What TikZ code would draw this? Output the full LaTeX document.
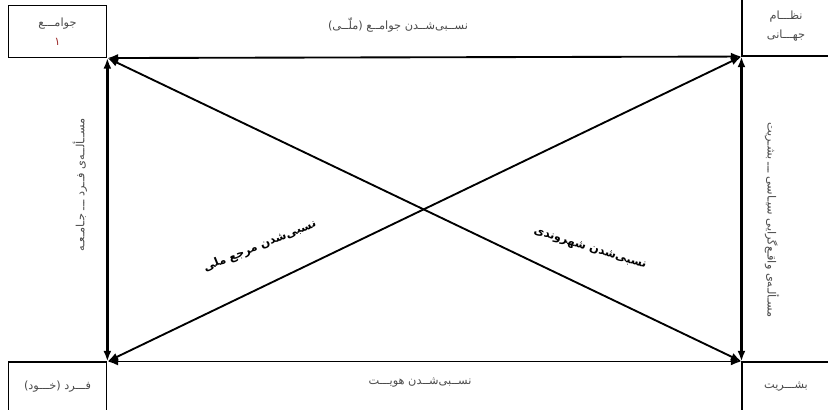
\documentclass[tikz,border=0pt]{standalone}
\usepackage{fontspec}
\usetikzlibrary{arrows.meta}
\usepackage{xcolor}
\TeXXeTstate=1
\newfontfamily\fa[Script=Arabic]{DejaVu Sans}
\definecolor{labelGray}{HTML}{4B4B4B}
\definecolor{numRed}{HTML}{A03030}
\tikzset{
cornerbox/.style={draw=black, line width=0.8pt, fill=white, minimum width=74pt, minimum height=39pt, align=center, font=\fa\fontsize{8.5}{14}\selectfont, text=labelGray, inner sep=2pt},
sidelabel/.style={font=\fa\fontsize{8.5}{10}\selectfont, text=labelGray, inner sep=1pt},
diaglabel/.style={font=\fa\bfseries\fontsize{8.5}{10}\selectfont, text=black, inner sep=1pt},
arrow/.style={{Latex[length=8pt,width=6pt]}-{Latex[length=8pt,width=6pt]}, line width=1.4pt},
thickarrow/.style={arrow, line width=2.8pt}
}

\begin{document}
\begin{tikzpicture}[x=0.75pt, y=-0.75pt]
\useasboundingbox (0,0) rectangle (828,410);
% the four corners of the field
\node[cornerbox] (soc) at (57.5,31.5) {\beginR جوامـــع\endR\\\textcolor{numRed}{۱}};
\node[cornerbox, minimum width=66pt, minimum height=45pt] (wsys) at (786,26) {\beginR نظـــام\endR\\\beginR جهـــانی\endR};
\node[cornerbox, minimum height=37.5pt] (self) at (57.5,387) {\beginR فـــرد (خـــود)\endR};
\node[cornerbox, minimum width=66pt, minimum height=37.5pt] (hum) at (786,387) {\beginR بشـــریت\endR};

\draw[arrow] (soc.south east) -- (wsys.south west);
\draw[arrow] (self.north east) -- (hum.north west);
\draw[thickarrow] (soc.south east) -- (self.north east);
\draw[thickarrow] (wsys.south west) -- (hum.north west);
\draw[arrow] (self.north east) -- (wsys.south west);
\draw[arrow] (hum.north west) -- (soc.south east);

\node[sidelabel] (toplab) at (398,25) {\beginR نســبی‌شــدن جوامــع (ملّــی)\endR};
\node[sidelabel] (botlab) at (420,383) {\beginR نســبی‌شــدن هویـــت\endR};
\node[sidelabel, rotate=90] (leftlab) at (80,185) {\beginR مســألــه‌ی فــرد ـــ جـامـعـه\endR};
\node[sidelabel, rotate=-90] (rightlab) at (772,220) {\beginR مسـألـه‌ی واقـع‌گرایی سیـاسی ـــ بشـریت\endR};
\node[diaglabel, rotate=22] (reflab) at (260,246) {\beginR نسبی‌شدن مرجع ملی\endR};
\node[diaglabel, rotate=-17] (citlab) at (590,249) {\beginR نسبی‌شدن شهروندی\endR};
\end{tikzpicture}
\end{document}
